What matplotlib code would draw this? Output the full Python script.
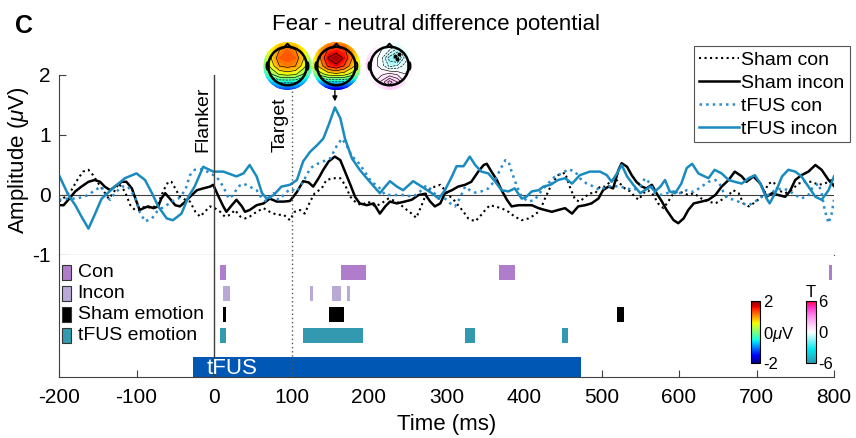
import numpy as np
import matplotlib
matplotlib.use("Agg")
import matplotlib.pyplot as plt
from matplotlib.colors import LinearSegmentedColormap, Normalize
from matplotlib.cm import ScalarMappable
from matplotlib.patches import Circle, Rectangle, Ellipse

plt.rcParams['font.family'] = ['Liberation Sans', 'DejaVu Sans']
plt.rcParams['mathtext.fontset'] = 'custom'
plt.rcParams['mathtext.rm'] = 'Liberation Sans'
plt.rcParams['mathtext.it'] = 'Liberation Sans:italic'
plt.rcParams['axes.unicode_minus'] = False

# ---- difference waveforms (fear - neutral), uV ----
sham_con_t = [-200, -192, -184, -175, -169, -162, -156, -149, -143, -136, -130, -123, -115, -108,
              -102, -96, -89, -80, -72, -65, -59, -55, -50, -44, -37, -31, -24, -18, -12, -5, 1, 8,
              14, 21, 27, 34, 40, 46, 55, 64, 72, 81, 90, 98, 104, 111, 117, 124, 130, 139, 145,
              154, 163, 169, 176, 182, 190, 199, 208, 216, 225, 236, 246, 255, 261, 268, 274, 279,
              285, 292, 296, 302, 308, 315, 322, 328, 337, 343, 350, 356, 362, 371, 380, 388, 397,
              406, 414, 421, 427, 436, 444, 453, 459, 466, 472, 479, 485, 492, 498, 505, 511, 517,
              524, 530, 537, 543, 548, 554, 560, 567, 573, 580, 586, 593, 599, 606, 612, 619, 629,
              638, 647, 655, 664, 670, 677, 683, 690, 696, 702, 709, 715, 722, 728, 737, 745, 754,
              763, 771, 780, 788, 797, 800]
sham_con_v = [-0.11, -0.03, 0.08, 0.28, 0.39, 0.42, 0.33, 0.19, 0.08, -0.06, 0.03, 0.19, 0.06, -0.17,
              -0.25, -0.25, -0.19, -0.22, -0.14, 0.08, 0.22, 0.22, 0.11, -0.03, -0.08, -0.11, -0.28,
              -0.36, -0.28, -0.19, -0.22, -0.28, -0.36, -0.33, -0.25, -0.36, -0.39, -0.36, -0.28,
              -0.22, -0.28, -0.33, -0.33, -0.42, -0.28, -0.25, -0.31, -0.11, 0.03, 0.11, 0.25, 0.28,
              0.28, 0.17, -0.03, -0.11, -0.17, -0.11, -0.19, -0.14, -0.06, -0.11, -0.22, -0.31, -0.38,
              -0.17, 0.03, 0.10, 0.14, 0.17, 0.11, 0.00, -0.06, -0.17, -0.28, -0.39, -0.44, -0.36,
              -0.25, -0.17, -0.19, -0.22, -0.28, -0.36, -0.42, -0.39, -0.33, -0.25, -0.06, 0.19, 0.33,
              0.37, 0.14, -0.08, -0.11, -0.03, 0.03, 0.03, 0.14, 0.14, 0.22, 0.28, 0.19, 0.11, 0.06,
              -0.03, -0.08, 0.03, 0.08, 0.00, -0.14, -0.22, -0.11, 0.03, 0.06, 0.03, 0.00, 0.03, -0.06,
              -0.11, -0.14, -0.08, 0.00, 0.08, 0.03, -0.14, -0.19, -0.14, -0.08, 0.00, 0.19, 0.22,
              0.08, 0.03, 0.08, 0.19, 0.22, 0.22, 0.17, 0.19, 0.25, 0.19]

sham_incon_t = [-200, -194, -188, -179, -171, -162, -154, -147, -141, -134, -128, -119, -113, -106,
                -100, -96, -91, -85, -78, -72, -68, -63, -57, -50, -44, -37, -31, -22, -14, -5, -1,
                6, 12, 16, 23, 29, 36, 40, 46, 55, 64, 72, 81, 90, 98, 107, 115, 122, 128, 135, 141,
                148, 156, 163, 169, 176, 182, 188, 197, 206, 214, 221, 227, 236, 246, 255, 264, 272,
                279, 285, 292, 298, 307, 315, 324, 332, 341, 348, 352, 358, 365, 371, 378, 384, 393,
                401, 410, 419, 427, 436, 444, 453, 462, 470, 479, 487, 496, 502, 509, 515, 522, 526,
                533, 539, 545, 552, 558, 565, 571, 578, 584, 593, 599, 606, 612, 619, 629, 638, 647,
                655, 664, 672, 681, 687, 696, 705, 713, 720, 728, 737, 743, 750, 758, 767, 776, 784,
                793, 800]
sham_incon_v = [-0.17, -0.17, -0.08, 0.06, 0.14, 0.22, 0.25, 0.22, 0.14, 0.08, 0.14, 0.22, 0.22,
                0.11, -0.11, -0.25, -0.22, -0.19, -0.22, -0.19, -0.06, 0.03, -0.06, -0.17, -0.19,
                -0.11, -0.03, 0.08, 0.11, 0.14, 0.17, -0.03, -0.19, -0.28, -0.17, -0.08, -0.19,
                -0.28, -0.25, -0.17, -0.14, -0.06, -0.11, -0.11, -0.10, 0.05, 0.23, 0.21, 0.14, 0.28,
                0.42, 0.56, 0.64, 0.58, 0.39, 0.17, -0.03, -0.14, -0.17, -0.14, -0.31, -0.19, -0.11,
                -0.14, -0.11, -0.08, 0.00, 0.02, -0.11, -0.19, -0.14, 0.03, 0.08, 0.14, 0.17, 0.22,
                0.39, 0.50, 0.52, 0.39, 0.25, 0.08, -0.08, -0.19, -0.17, -0.17, -0.17, -0.22, -0.25,
                -0.28, -0.25, -0.22, -0.31, -0.19, -0.17, -0.14, -0.06, 0.08, 0.14, 0.11, 0.42, 0.53,
                0.47, 0.33, 0.22, 0.14, 0.11, 0.17, 0.03, -0.11, -0.25, -0.42, -0.47, -0.39, -0.25,
                -0.14, -0.11, -0.08, 0.00, 0.14, 0.25, 0.39, 0.31, 0.22, 0.31, 0.19, -0.03, 0.03,
                0.00, -0.03, 0.06, 0.25, 0.33, 0.39, 0.50, 0.42, 0.25, 0.15]

tfus_con_t = [-200, -188, -179, -171, -162, -154, -145, -139, -134, -128, -119, -111, -102, -96,
              -89, -80, -72, -63, -55, -46, -37, -31, -25, -14, -5, 3, 12, 19, 25, 31, 38, 46, 55,
              62, 68, 77, 83, 90, 98, 107, 115, 124, 130, 141, 150, 158, 165, 171, 178, 184, 193,
              203, 212, 221, 231, 244, 257, 266, 274, 281, 290, 298, 305, 311, 317, 324, 330, 337,
              345, 354, 363, 369, 376, 380, 384, 391, 397, 406, 414, 423, 431, 440, 449, 457, 466,
              472, 481, 490, 498, 507, 515, 524, 533, 541, 550, 556, 563, 569, 576, 584, 593, 601,
              610, 619, 629, 638, 647, 653, 659, 664, 672, 681, 690, 698, 707, 715, 724, 733, 741,
              750, 758, 767, 773, 780, 784, 788, 793, 797, 800]
tfus_con_v = [-0.08, -0.06, -0.06, -0.04, 0.00, 0.08, 0.14, -0.03, -0.08, 0.03, 0.14, 0.14, -0.03,
              -0.28, -0.44, -0.39, -0.25, -0.19, -0.11, -0.06, 0.08, 0.33, 0.42, 0.43, 0.36, 0.31,
              0.14, -0.06, 0.00, 0.14, 0.19, 0.14, 0.08, -0.06, -0.11, 0.03, -0.08, 0.00, 0.10, 0.06,
              0.22, 0.44, 0.50, 0.56, 0.61, 0.81, 0.94, 0.83, 0.64, 0.58, 0.42, 0.22, 0.14, 0.00,
              0.00, 0.00, -0.03, 0.06, 0.16, 0.08, -0.06, -0.06, -0.14, -0.19, -0.06, 0.14, 0.08,
              0.04, 0.06, 0.11, 0.25, 0.42, 0.58, 0.56, 0.39, 0.14, -0.03, -0.11, -0.08, 0.08, 0.19,
              0.31, 0.36, 0.43, 0.39, 0.28, 0.19, 0.14, 0.08, 0.14, 0.15, 0.14, 0.11, 0.08, 0.14,
              0.28, 0.19, 0.03, 0.00, 0.03, 0.06, 0.03, 0.08, 0.05, 0.14, 0.22, 0.25, 0.17, 0.00,
              -0.06, -0.08, -0.14, -0.17, -0.11, -0.03, 0.00, 0.08, 0.11, 0.08, 0.00, -0.06, 0.00,
              0.14, 0.19, 0.03, -0.25, -0.47, -0.31, -0.08]

tfus_incon_t = [-200, -188, -179, -171, -162, -154, -145, -128, -115, -100, -89, -80, -72, -61, -53,
                -42, -33, -25, -14, -1, 12, 29, 38, 46, 55, 62, 68, 77, 87, 98, 107, 115, 124, 133,
                141, 148, 156, 163, 169, 178, 188, 201, 214, 221, 227, 236, 244, 257, 268, 281, 290,
                298, 307, 313, 322, 330, 337, 345, 354, 363, 371, 380, 388, 397, 403, 410, 419, 425,
                434, 444, 453, 462, 472, 485, 498, 507, 513, 520, 526, 533, 541, 550, 556, 563, 569,
                576, 582, 588, 595, 603, 610, 617, 625, 638, 646, 655, 664, 672, 681, 690, 698, 705,
                713, 717, 724, 733, 741, 750, 758, 767, 776, 784, 793, 800]
tfus_incon_v = [0.33, 0.00, -0.17, -0.36, -0.56, -0.33, -0.06, 0.14, 0.28, 0.36, 0.25, 0.03, -0.19,
                -0.39, -0.42, -0.31, -0.03, 0.14, 0.47, 0.39, 0.39, 0.31, 0.36, 0.50, 0.31, 0.03,
                -0.06, 0.00, 0.14, 0.17, 0.25, 0.56, 0.72, 0.83, 0.94, 1.17, 1.46, 1.28, 0.94, 0.61,
                0.42, 0.22, 0.03, 0.14, 0.23, 0.14, 0.08, 0.23, 0.14, 0.03, -0.06, 0.08, 0.31, 0.48,
                0.48, 0.64, 0.50, 0.39, 0.36, 0.22, 0.08, 0.06, 0.11, -0.06, -0.03, 0.06, 0.08, 0.14,
                0.17, 0.25, 0.28, 0.19, 0.33, 0.39, 0.39, 0.33, 0.22, 0.36, 0.50, 0.31, 0.17, 0.03,
                0.08, 0.14, 0.06, 0.14, 0.25, 0.06, 0.03, 0.19, 0.45, 0.52, 0.36, 0.28, 0.42, 0.36,
                0.25, 0.22, 0.19, 0.28, 0.33, 0.19, -0.06, -0.14, 0.03, 0.31, 0.42, 0.39, 0.31, 0.14,
                -0.03, -0.08, 0.08, 0.31]

# ---- significant clusters (ms) ----
row_names = ['Con', 'Incon', 'Sham emotion', 'tFUS emotion']
row_colors = ['#b07ccc', '#b9a9d6', '#000000', '#3399b0']
con_on, con_off = [8, 164, 368, 794], [16, 196, 389, 798]
incon_on, incon_off = [11, 124, 152, 172], [20, 128, 164, 176]
sham_on, sham_off = [12, 148, 520], [16, 168, 529]
tfus_on, tfus_off = [8, 115, 324, 449], [16, 192, 337, 457]
stim_on, stim_off = -27, 473

# ---- scalp maps (rows: frontal -> posterior) ----
topo_sham = np.array([
    [-0.2, 0.3, 0.6, 0.7, 0.6, 0.3, -0.2],
    [0.0, 0.6, 1.0, 1.2, 1.0, 0.6, 0.0],
    [0.0, 0.7, 1.2, 1.3, 1.2, 0.7, 0.0],
    [-0.1, 0.5, 1.0, 1.1, 1.0, 0.5, -0.1],
    [-0.5, 0.0, 0.4, 0.5, 0.4, 0.0, -0.5],
    [-1.0, -0.8, -0.6, -0.6, -0.6, -0.8, -1.0],
    [-1.4, -1.4, -1.3, -1.3, -1.3, -1.4, -1.4]])
topo_tfus = np.array([
    [0.2, 0.6, 0.9, 1.0, 0.9, 0.6, 0.2],
    [0.4, 0.9, 1.4, 1.5, 1.4, 0.9, 0.4],
    [0.4, 1.0, 1.7, 1.9, 1.6, 1.0, 0.4],
    [0.3, 0.8, 1.4, 1.6, 1.3, 0.8, 0.3],
    [-0.2, 0.2, 0.5, 0.6, 0.5, 0.2, -0.2],
    [-1.0, -0.9, -0.7, -0.7, -0.7, -0.9, -1.0],
    [-1.6, -1.7, -1.8, -1.8, -1.8, -1.7, -1.6]])
topo_t = np.array([
    [0.6, 0.3, 0.0, 0.0, -0.2, 0.0, 0.0],
    [0.9, 0.4, 0.0, -0.4, -1.0, -0.3, 0.0],
    [1.2, 0.3, -0.3, -1.4, -1.8, -0.6, 0.0],
    [0.9, 0.2, -0.2, -0.9, -0.7, -0.2, 0.2],
    [0.4, 0.1, 0.3, 0.5, 0.3, 0.0, 0.2],
    [0.2, 0.3, 0.9, 1.8, 1.2, 0.3, -0.3],
    [0.0, 0.2, 0.6, 1.2, 0.9, 0.3, -0.6]])
sig_x = [0.22, 0.38, 0.30]
sig_y = [0.42, 0.50, 0.30]

tmap = LinearSegmentedColormap.from_list(
    'tmap', [(0.0, '#2a9ab0'), (0.22, '#00e8f0'), (0.5, '#ffffff'),
             (0.75, '#ff90f0'), (0.9, '#ff30c8'), (1.0, '#ff0040')])

W, H = 856, 438
fig = plt.figure(figsize=(W / 100, H / 100), dpi=100)


def fx(px):
    return px / W


def fy(py):
    return 1 - py / H


ax = fig.add_axes([fx(59), fy(255), fx(775), 180 / H])
axb = fig.add_axes([fx(59), fy(377), fx(775), 122 / H])

spine_c = '#404040'
ax.plot(sham_con_t, sham_con_v, ':', color='k', lw=1.5, label='Sham con')
ax.plot(sham_incon_t, sham_incon_v, '-', color='k', lw=1.8, label='Sham incon',
        solid_joinstyle='round')
ax.plot(tfus_con_t, tfus_con_v, ':', color='#2a8ccc', lw=1.8, label='tFUS con')
ax.plot(tfus_incon_t, tfus_incon_v, '-', color='#1a8bbf', lw=1.8, label='tFUS incon',
        solid_joinstyle='round')
ax.axhline(0, color=spine_c, lw=0.8, zorder=1)
for a in (ax, axb):
    a.axvline(0, color=spine_c, lw=1.0, zorder=3)
    a.axvline(100, color='#555555', lw=1.0, ls=(0, (1, 2)), zorder=3)
    a.set_xlim(-200, 800)
    for s in ('top', 'right'):
        a.spines[s].set_visible(False)
    for s in ('left', 'bottom'):
        a.spines[s].set_color(spine_c)
        a.spines[s].set_linewidth(0.8)

ax.set_ylim(-1, 2)
ax.set_yticks([-1, 0, 1, 2])
ax.set_xticks([])
ax.tick_params(axis='y', direction='in', length=5, labelsize=15, pad=6, color=spine_c)
ax.annotate('Flanker', xy=(0, 0.72), xytext=(-2, 0), textcoords='offset points',
            rotation=90, ha='right', va='bottom', fontsize=14)
ax.annotate('Target', xy=(100, 0.72), xytext=(-2, 0), textcoords='offset points',
            rotation=90, ha='right', va='bottom', fontsize=14)
ax.annotate('', xy=(156, 1.56), xytext=(156, 1.74),
            arrowprops=dict(arrowstyle='-|>', color='k', lw=1, mutation_scale=7,
                            shrinkA=0, shrinkB=0))

leg = ax.legend(loc='upper right', bbox_to_anchor=(fx(849.5), fy(46.5)),
                bbox_transform=fig.transFigure, fontsize=14, fancybox=False,
                edgecolor='#555555', framealpha=1, handlelength=2.1, handletextpad=0.1,
                labelspacing=0.27, borderpad=0.25, borderaxespad=0)
leg.get_frame().set_linewidth(0.8)

# ---- cluster rows ----
axb.set_ylim(5.01, -0.85)
bar_h = 0.72
row_on = [con_on, incon_on, sham_on, tfus_on]
row_off = [con_off, incon_off, sham_off, tfus_off]
for i, (name, col) in enumerate(zip(row_names, row_colors)):
    widths = [b - a for a, b in zip(row_on[i], row_off[i])]
    axb.barh(i, widths, left=row_on[i], height=bar_h, color=col, lw=0, zorder=2)
    axb.add_patch(Rectangle((-196, i - bar_h / 2), 11.5, bar_h, facecolor=col,
                            edgecolor='#333333', lw=0.8, zorder=2))
    axb.text(-176, i, name, va='center', ha='left', fontsize=14)
axb.barh(4.53, stim_off - stim_on, left=stim_on, height=0.96, color='#0058b4', lw=0, zorder=2)
axb.text(-10, 4.58, 'tFUS', color='white', fontsize=16, va='center', ha='left', zorder=4)
axb.set_yticks([])
axb.set_xticks(np.arange(-200, 801, 100))
axb.tick_params(axis='x', direction='in', length=5, labelsize=15, pad=8, color=spine_c)

fig.text(fx(447), fy(430), 'Time (ms)', ha='center', va='baseline', fontsize=16)
fig.text(fx(19), fy(160), 'Amplitude ($\\mu$V)', rotation=90, ha='center', va='center',
         fontsize=16)
fig.text(fx(436), fy(30), 'Fear - neutral difference potential', ha='center',
         va='baseline', fontsize=16)
fig.text(fx(15), fy(33), 'C', ha='left', va='baseline', fontsize=18, fontweight='bold')


# ---- scalp maps ----
def draw_topo(cx, cy, grid, cmap, vmax, n_lines, sig=None):
    r = 24.5
    tax = fig.add_axes([fx(cx - r), fy(cy + r), 2 * r / W, 2 * r / H])
    n = grid.shape[0]
    xs = np.linspace(-1, 1, n)
    gx, gy = np.meshgrid(xs, xs[::-1])
    disk = Circle((0, 0), 1.0, transform=tax.transData)
    cf = tax.contourf(gx, gy, grid, levels=np.linspace(-vmax, vmax, 41), cmap=cmap,
                      extend='both')
    cf.set_clip_path(disk)
    cl = tax.contour(gx, gy, grid, levels=np.linspace(-vmax, vmax, n_lines), colors='k',
                     linewidths=0.45)
    cl.set_clip_path(Circle((0, 0), 0.8, transform=tax.transData))
    tax.add_patch(Circle((0, 0), 0.8, fill=False, lw=1.8, color='k'))
    tax.plot([-0.13, 0, 0.13], [0.79, 0.93, 0.79], color='k', lw=1.4)
    tax.add_patch(Ellipse((-0.83, 0), 0.1, 0.32, fill=False, lw=1.2, color='k'))
    tax.add_patch(Ellipse((0.83, 0), 0.1, 0.32, fill=False, lw=1.2, color='k'))
    if sig is not None:
        tax.plot(sig[0], sig[1], 'o', color='k', ms=1.8)
    tax.set_xlim(-1.02, 1.02)
    tax.set_ylim(-1.02, 1.02)
    tax.set_aspect('equal')
    tax.axis('off')


draw_topo(287.5, 66, topo_sham, 'jet', 2, 13)
draw_topo(336.3, 66, topo_tfus, 'jet', 2, 13)
draw_topo(389.5, 66, topo_t, tmap, 6, 31, sig=(sig_x, sig_y))

# ---- colour scales ----
cax1 = fig.add_axes([fx(750.7), fy(363), 9.3 / W, 62 / H])
cb1 = fig.colorbar(ScalarMappable(Normalize(-2, 2), 'jet'), cax=cax1, ticks=[-2, 0, 2])
cb1.ax.set_yticklabels(['-2', '0$\\mu$V', '2'])
cax2 = fig.add_axes([fx(805.7), fy(363), 10 / W, 62 / H])
cb2 = fig.colorbar(ScalarMappable(Normalize(-6, 6), tmap), cax=cax2, ticks=[-6, 0, 6])
cb2.ax.set_yticklabels(['-6', '0', '6'])
cax2.set_title('T', fontsize=12, pad=3)
for cb in (cb1, cb2):
    cb.ax.tick_params(length=0, labelsize=12, pad=2)
    cb.outline.set_linewidth(0.8)

fig.savefig('out.png', dpi=100)
